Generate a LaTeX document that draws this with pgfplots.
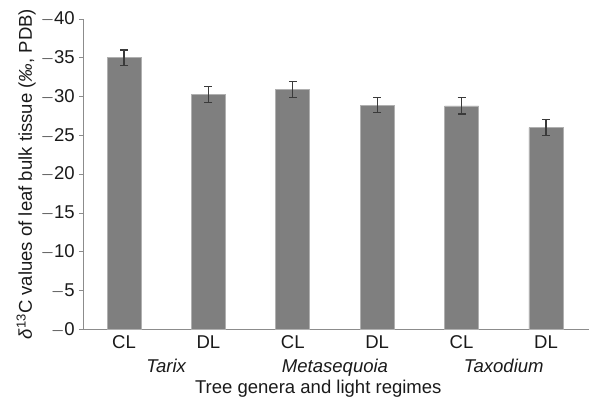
\documentclass[border=0pt]{standalone}
\usepackage{pgfplots}
\pgfplotsset{compat=1.18}
\usepackage{fontspec}
\setmainfont{Liberation Sans}
\definecolor{barfill}{HTML}{7F7F7F}
\definecolor{baredge}{HTML}{B0B0B0}
\definecolor{axisgray}{HTML}{8C8C8C}
\definecolor{errc}{HTML}{3A3A3A}
\definecolor{txt}{HTML}{1A1A1A}
\newcommand{\fs}{\fontsize{18.6}{21}\selectfont}
\begin{document}
\begin{tikzpicture}
\useasboundingbox (-83bp,-68.7bp) rectangle (506bp,329.3bp);
\begin{axis}[
  at={(0,0)}, anchor=south west,
  scale only axis,
  width=506bp, height=310.3bp,
  xmin=-0.486, xmax=5.51,
  ymin=-40, ymax=0,
  y dir=reverse,
  axis x line*=bottom, axis y line*=left,
  axis line style={draw=axisgray, line width=0.8bp, -},
  ybar, bar width=34bp,
  xtick={0,1,2,3,4,5},
  xticklabels={CL,DL,CL,DL,CL,DL},
  xtick style={draw=none},
  ytick={-40,-35,-30,-25,-20,-15,-10,-5,0},
  yticklabels={$-$40,$-$35,$-$30,$-$25,$-$20,$-$15,$-$10,$-$5,$-$0},
  ytick style={draw=axisgray, line width=0.8bp},
  tick align=outside, major tick length=4bp,
  tick label style={font=\fs, text=txt},
  yticklabel style={inner sep=0pt, xshift=-4bp},
  xticklabel style={inner sep=0pt, yshift=-2bp},
  ylabel={\textit{δ}\textsuperscript{13}C values of leaf bulk tissue (\textit{‰}, PDB)},
  ylabel style={at={(axis description cs:-0.1126,0.5)}, anchor=center, font=\fs, text=txt},
  xlabel={Tree genera and light regimes},
  xlabel style={at={(axis description cs:0.465,0)}, anchor=base, yshift=-64.5bp, font=\fs, text=txt},
  clip=false,
]
\addplot[fill=barfill, draw=baredge, line width=0.6bp,
  error bars/.cd, y dir=both, y explicit,
  error bar style={draw=errc, line width=1.2bp},
  error mark options={rotate=90, mark size=4bp, draw=errc, line width=1.2bp}]
  coordinates {
  (0,-35.0) +- (0,1.0)
  (1,-30.3) +- (0,1.05)
  (2,-30.9) +- (0,1.0)
  (3,-28.9) +- (0,1.0)
  (4,-28.8) +- (0,1.05)
  (5,-26.0) +- (0,1.0)
  };
\node[anchor=base, font=\fs\itshape, text=txt] at (axis cs:0.5,0) [yshift=-42.7bp] {Tarix};
\node[anchor=base, font=\fs\itshape, text=txt] at (axis cs:2.5,0) [yshift=-42.7bp] {Metasequoia};
\node[anchor=base, font=\fs\itshape, text=txt] at (axis cs:4.5,0) [yshift=-42.7bp] {Taxodium};
\end{axis}
\end{tikzpicture}
\end{document}
